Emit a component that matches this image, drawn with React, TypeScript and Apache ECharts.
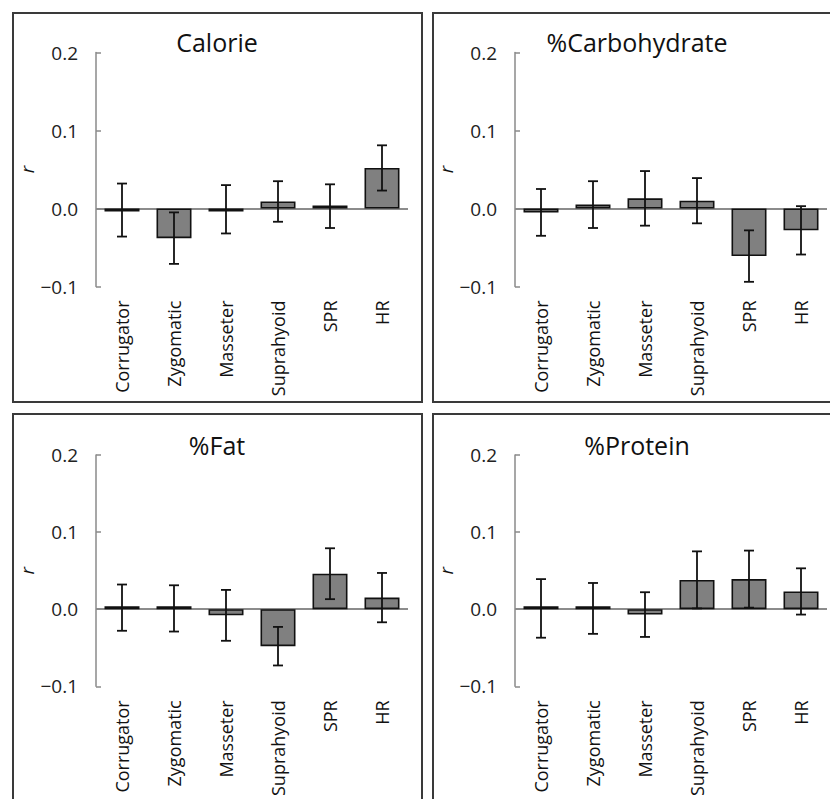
import React, { useEffect, useRef } from "react";
import * as echarts from "echarts";

const categories = ["Corrugator", "Zygomatic", "Masseter", "Suprahyoid", "SPR", "HR"];
const yTicks = [-0.1, 0.0, 0.1, 0.2];

const calorieMean = [-0.002, -0.038, -0.001, 0.009, 0.003, 0.052];
const calorieErr = [0.034, 0.033, 0.031, 0.026, 0.028, 0.029];
const carbMean = [-0.005, 0.005, 0.013, 0.010, -0.061, -0.028];
const carbErr = [0.030, 0.030, 0.035, 0.029, 0.033, 0.031];
const fatMean = [0.002, 0.001, -0.008, -0.048, 0.046, 0.015];
const fatErr = [0.030, 0.030, 0.033, 0.025, 0.033, 0.032];
const proteinMean = [0.001, 0.001, -0.007, 0.038, 0.039, 0.023];
const proteinErr = [0.038, 0.033, 0.029, 0.037, 0.037, 0.030];

const panelTitles = ["Calorie", "%Carbohydrate", "%Fat", "%Protein"];
const panelMeans = [calorieMean, carbMean, fatMean, proteinMean];
const panelErrs = [calorieErr, carbErr, fatErr, proteinErr];

const FONT = "'Open Sans', 'Noto Sans', sans-serif";

export default function App() {
  const ref = useRef<HTMLDivElement>(null);
  useEffect(() => {
    if (!ref.current) return;
    const chart = echarts.init(ref.current, undefined, { renderer: "svg" });

    const gridPos = [
      { left: 96, top: 52.5 },
      { left: 515, top: 52.5 },
      { left: 96, top: 455 },
      { left: 515, top: 455 },
    ];
    const titlePos = [
      { x: 217, y: 42 },
      { x: 637, y: 42 },
      { x: 217, y: 445 },
      { x: 637, y: 445 },
    ];
    const boxes = [
      { x: 13, y: 13, width: 409, height: 389 },
      { x: 433, y: 13, width: 420, height: 389 },
      { x: 13, y: 414, width: 409, height: 420 },
      { x: 433, y: 414, width: 420, height: 420 },
    ];

    const grid = gridPos.map((g) => ({ left: g.left, top: g.top, width: 312, height: 234 }));
    const xAxis = gridPos.map((_, i) => ({
      type: "category",
      gridIndex: i,
      data: categories,
      position: "bottom",
      axisLine: { show: false },
      axisTick: { show: false },
      axisLabel: {
        rotate: 90,
        interval: 0,
        margin: 14,
        fontSize: 18,
        fontFamily: FONT,
        color: "#111",
      },
    }));
    const yAxis = gridPos.map((_, i) => ({
      type: "value",
      gridIndex: i,
      min: yTicks[0],
      max: yTicks[yTicks.length - 1],
      interval: 0.1,
      name: "r",
      nameLocation: "middle",
      nameGap: 50,
      nameTextStyle: { fontStyle: "italic", fontSize: 19, fontFamily: FONT, color: "#111" },
      axisLine: { show: true, lineStyle: { color: "#8a8a8a", width: 1.5 } },
      axisTick: { show: true, inside: true, length: 5, lineStyle: { color: "#8a8a8a", width: 1.5 } },
      axisLabel: {
        margin: 18,
        fontSize: 19,
        fontFamily: FONT,
        color: "#222",
        formatter: (v: number) => (v < 0 ? "\u2212" + Math.abs(v).toFixed(1) : v.toFixed(1)),
      },
      splitLine: {
        show: true,
        lineStyle: { color: ["rgba(0,0,0,0)", "#666", "rgba(0,0,0,0)", "rgba(0,0,0,0)"], width: 1.5 },
      },
    }));

    const series: any[] = [];
    panelMeans.forEach((means, i) => {
      series.push({
        type: "bar",
        xAxisIndex: i,
        yAxisIndex: i,
        data: means,
        barWidth: 35,
        barMinHeight: 3,
        itemStyle: { color: "#808080", borderColor: "#111", borderWidth: 1.6 },
      });
      series.push({
        type: "custom",
        xAxisIndex: i,
        yAxisIndex: i,
        data: means.map((m, j) => [j, m, panelErrs[i][j]]),
        encode: { x: 0, y: 1 },
        z: 10,
        renderItem: (params: any, api: any) => {
          const idx = api.value(0);
          const m = api.value(1);
          const e = api.value(2);
          const top = api.coord([idx, m + e]);
          const bot = api.coord([idx, m - e]);
          const cap = 5;
          const style = { stroke: "#111", lineWidth: 1.8 };
          return {
            type: "group",
            children: [
              { type: "line", shape: { x1: top[0], y1: top[1], x2: bot[0], y2: bot[1] }, style },
              { type: "line", shape: { x1: top[0] - cap, y1: top[1], x2: top[0] + cap, y2: top[1] }, style },
              { type: "line", shape: { x1: bot[0] - cap, y1: bot[1], x2: bot[0] + cap, y2: bot[1] }, style },
            ],
          };
        },
      });
    });

    const graphic: any[] = [];
    boxes.forEach((b) => {
      graphic.push({
        type: "rect",
        shape: b,
        style: { fill: "none", stroke: "#3a3a3a", lineWidth: 2 },
        silent: true,
      });
    });
    titlePos.forEach((t, i) => {
      graphic.push({
        type: "text",
        x: t.x,
        y: t.y,
        style: {
          text: panelTitles[i],
          fontSize: 25,
          fontFamily: FONT,
          fill: "#111",
          align: "center",
          verticalAlign: "middle",
        },
        silent: true,
      });
    });

    chart.setOption({
      animation: false,
      backgroundColor: "#ffffff",
      grid,
      xAxis,
      yAxis,
      series,
      graphic,
    });
    return () => chart.dispose();
  }, []);
  return (
    <div
      ref={ref}
      style={{ position: "absolute", left: 0, top: 0, width: 830, height: 799, background: "#fff" }}
    />
  );
}
